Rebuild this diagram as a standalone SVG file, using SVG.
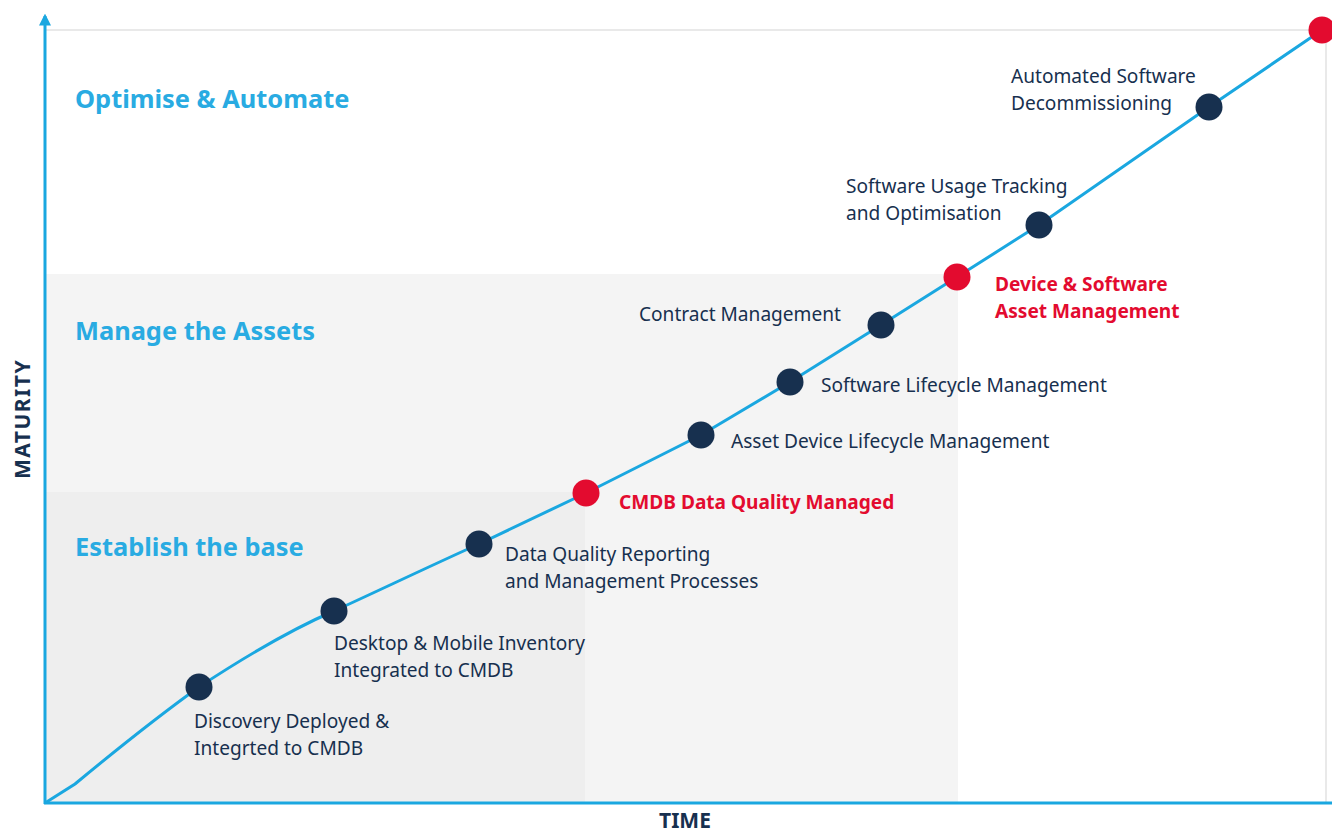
<svg xmlns="http://www.w3.org/2000/svg" width="1332" height="834" viewBox="0 0 1332 834">
<style>
.lbl{font-family:"Noto Sans","Open Sans",sans-serif;font-size:19.1px;fill:#17304f}
.key{font-family:"Noto Sans","Open Sans",sans-serif;font-size:19.1px;font-weight:bold;fill:#e30b2f}
.head{font-family:"Noto Sans","Open Sans",sans-serif;font-size:25.4px;font-weight:bold;fill:#29abe2}
.axis-t{font-family:"Noto Sans","Open Sans",sans-serif;font-size:21px;font-weight:bold;fill:#17304f}
.dot{fill:#17304f}
.red{fill:#e30b2f}
</style>
<defs>
<marker id="arr" viewBox="0 0 10 10" refX="8" refY="5" markerWidth="4" markerHeight="4" orient="auto">
<path d="M0,0 L10,5 L0,10 z" fill="#1aa7e0"/>
</marker>
</defs>
<rect width="1332" height="834" fill="#ffffff"/>
<g id="bands">
<rect x="45" y="274" width="913" height="529" fill="#f4f4f4"/>
<rect x="45" y="492" width="540" height="311" fill="#eeeeee"/>
<line x1="45" y1="30" x2="1326" y2="30" stroke="#e2e2e2" stroke-width="1.5"/>
<line x1="1326" y1="30" x2="1326" y2="803" stroke="#e2e2e2" stroke-width="1.5"/>
</g>
<g id="axes">
<line x1="45" y1="804" x2="45" y2="16" stroke="#1aa7e0" stroke-width="3" marker-end="url(#arr)"/>
<line x1="44" y1="803" x2="1334" y2="803" stroke="#1aa7e0" stroke-width="3"/>
<text class="axis-t" x="685" y="828" text-anchor="middle" font-size="19">TIME</text>
<text class="axis-t" transform="translate(30,419) rotate(-90)" text-anchor="middle" font-size="22" letter-spacing="1.5">MATURITY</text>
</g>
<g id="headings">
<text class="head" x="75" y="108">Optimise &amp; Automate</text>
<text class="head" x="75" y="340">Manage the Assets</text>
<text class="head" x="75" y="556">Establish the base</text>
</g>
<g id="connectors">
<path d="M45,803 L75,784 C110,755 160,715 199,687 C240,660 290,630 334,611 C380,590 430,566 479,544 L586,493 L701,435 L790,382 L881,325 L957,277 L1039,225 L1209,107 L1322,30" fill="none" stroke="#1aa7e0" stroke-width="3"/>
</g>
<g id="n1"><circle class="dot" cx="199" cy="687" r="13.5"/><text class="lbl" x="194" y="728">Discovery Deployed &amp;</text><text class="lbl" x="194" y="755">Integrted to CMDB</text></g>
<g id="n2"><circle class="dot" cx="334" cy="611" r="13.5"/><text class="lbl" x="334" y="650">Desktop &amp; Mobile Inventory</text><text class="lbl" x="334" y="677">Integrated to CMDB</text></g>
<g id="n3"><circle class="dot" cx="479" cy="544" r="13.5"/><text class="lbl" x="505" y="561">Data Quality Reporting</text><text class="lbl" x="505" y="588">and Management Processes</text></g>
<g id="n4"><circle class="red" cx="586" cy="493" r="13.5"/><text class="key" x="619" y="509">CMDB Data Quality Managed</text></g>
<g id="n5"><circle class="dot" cx="701" cy="435" r="13.5"/><text class="lbl" x="731" y="448">Asset Device Lifecycle Management</text></g>
<g id="n6"><circle class="dot" cx="790" cy="382" r="13.5"/><text class="lbl" x="821" y="392">Software Lifecycle Management</text></g>
<g id="n7"><circle class="dot" cx="881" cy="325" r="13.5"/><text class="lbl" x="639" y="321">Contract Management</text></g>
<g id="n8"><circle class="red" cx="957" cy="277" r="13.5"/><text class="key" x="995" y="291">Device &amp; Software</text><text class="key" x="995" y="318">Asset Management</text></g>
<g id="n9"><circle class="dot" cx="1039" cy="225" r="13.5"/><text class="lbl" x="846" y="193">Software Usage Tracking</text><text class="lbl" x="846" y="220">and Optimisation</text></g>
<g id="n10"><circle class="dot" cx="1209" cy="107" r="13.5"/><text class="lbl" x="1011" y="83">Automated Software</text><text class="lbl" x="1011" y="110">Decommissioning</text></g>
<g id="n11"><circle class="red" cx="1322" cy="30" r="13.5"/></g>
</svg>
